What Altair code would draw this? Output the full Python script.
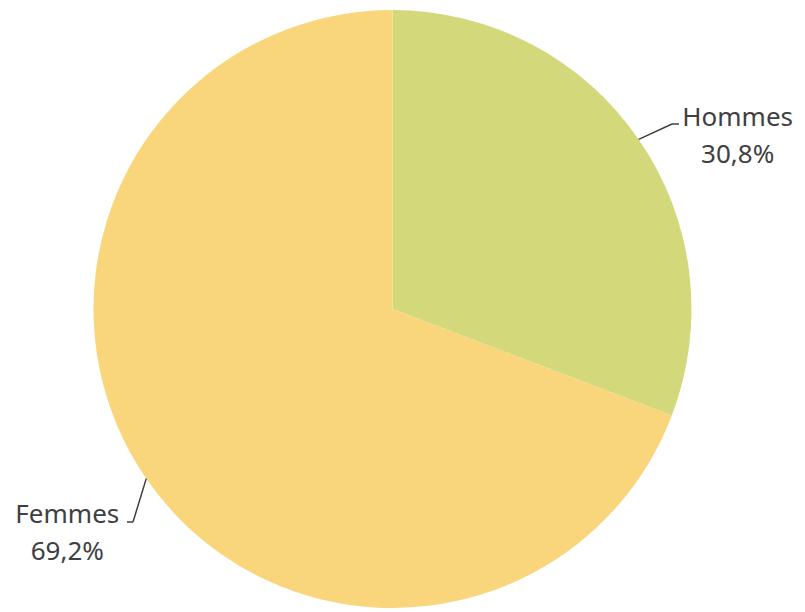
import math
import altair as alt
import pandas as pd

categories = ["Hommes", "Femmes"]
values = [30.8, 69.2]
colors = ["#D3D97A", "#F9D67B"]

W, H = 805, 612
CX, CY, R = 392.5, 309, 299

# cumulative / mid angles derived from values
total = sum(values)
cum = 0
mids = []
for v in values:
    mids.append((cum + v / 2) / total * 360)
    cum += v

labels = [f"{c}\n{str(v).replace('.', ',')}%" for c, v in zip(categories, values)]
df = pd.DataFrame({"category": categories, "value": values, "idx": [0, 1], "label": labels})

arc = alt.Chart(df).mark_arc(outerRadius=R, strokeWidth=0).encode(
    theta=alt.Theta("value:Q", stack=True),
    color=alt.Color("category:N", scale=alt.Scale(domain=categories, range=colors), legend=None),
    order=alt.Order("idx:Q"),
    x=alt.value(CX),
    y=alt.value(CY),
)

def label_layer(cat, dx, dy):
    return alt.Chart(df).transform_window(
        cum="sum(value)", sort=[alt.SortField("idx")]
    ).transform_calculate(
        mid="datum.cum - datum.value/2"
    ).transform_filter(alt.datum.category == cat).mark_text(
        radius=390, dx=dx, dy=dy, align="center", baseline="middle",
        font="Noto Sans", fontSize=26, color="#404040", lineBreak="\n", lineHeight=37,
    ).encode(
        theta=alt.Theta("mid:Q", stack=None, scale=alt.Scale(domain=[0, total])),
        text="label:N",
        x=alt.value(CX),
        y=alt.value(CY),
    )

lab_h = label_layer("Hommes", 24, 30)
lab_f = label_layer("Femmes", -4, -15)

# leader lines: from slice edge at mid-angle to elbow then short horizontal
def edge(a):
    r = math.radians(a)
    return CX + R * math.sin(r), CY - R * math.cos(r)

eh = edge(mids[0])
ef = edge(mids[1])
segs = pd.DataFrame({
    "x": [eh[0], 672, ef[0], 133],
    "y": [eh[1], 124, ef[1], 522],
    "x2": [672, 679, 133, 127],
    "y2": [124, 124, 522, 522],
})
xs = alt.Scale(domain=[0, W], range=[0, W])
ys = alt.Scale(domain=[0, H], range=[0, H])
leaders = alt.Chart(segs).mark_rule(color="#404040", strokeWidth=1.5).encode(
    x=alt.X("x:Q", scale=xs, axis=None),
    y=alt.Y("y:Q", scale=ys, axis=None),
    x2="x2:Q",
    y2="y2:Q",
)

chart = alt.layer(arc, leaders, lab_h, lab_f).properties(
    width=W, height=H, padding=0, autosize=alt.AutoSizeParams(type="none"),
    background="white",
).configure_view(stroke=None, strokeWidth=0)

chart.save("out.html", embed_options={"renderer": "svg", "actions": False})
